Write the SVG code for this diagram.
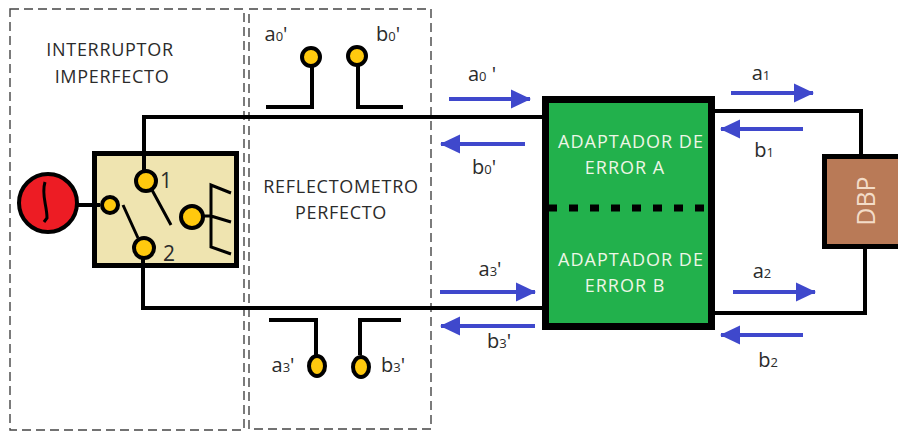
<svg xmlns="http://www.w3.org/2000/svg" width="898" height="432" viewBox="0 0 898 432">
<style>
text{font-family:"Open Sans","Noto Sans","Liberation Sans",sans-serif;font-size:18px;fill:#2b2b2b;text-anchor:middle}
.c{letter-spacing:.7px}
.w{fill:#eef6e6;letter-spacing:1px}
.l{font-size:20px}
.s{font-size:13px}
.dash{fill:none;stroke:#444;stroke-width:1.4;stroke-dasharray:9 5}
.ln{fill:none;stroke:#000;stroke-width:4}
.pin{fill:#ffc90e;stroke:#000;stroke-width:4}
.ar{fill:none;stroke:#3f48cc;stroke-width:4;marker-end:url(#h)}
</style>
<defs><marker id="h" markerUnits="userSpaceOnUse" markerWidth="22" markerHeight="22" refX="19" refY="11" orient="auto"><path d="M0 1.500L20 11L0 20.500Z" fill="#3f48cc"/></marker></defs>
<rect width="898" height="432" fill="#fff"/>
<g id="frames"><rect class="dash" x="10" y="9" width="234" height="421"/><rect class="dash" x="249" y="9" width="182" height="420"/></g>
<g id="connectors">
<path class="ln" d="M144 172V117H546M143 258V308H546"/>
<path class="ln" d="M712 111H861V158M712 313H865V245"/>
<path class="ln" d="M266 107H312V62M358 62V107H403M269 320H316V355M401 320H360V355"/>
<path class="ar" d="M449 99H530"/><path class="ar" d="M525 144H441"/>
<path class="ar" d="M731 93H813"/><path class="ar" d="M803 129H721"/>
<path class="ar" d="M733 292H815"/><path class="ar" d="M803 335H721"/>
<path class="ar" d="M440 292H535"/><path class="ar" d="M535 326H441"/>
</g>
<g id="source"><circle cx="48" cy="203" r="29" fill="#ed1c24" stroke="#000" stroke-width="4"/><path d="M45 182C41 195 47 205 47 218L44 222" fill="none" stroke="#000" stroke-width="3"/></g>
<g id="switch"><rect x="94.500" y="153.500" width="142" height="112" fill="#efe4b0" stroke="#000" stroke-width="5"/>
<path class="ln" d="M144 155V172M143 258V266M76 205H100"/>
<circle class="pin" cx="110" cy="205" r="8"/><circle class="pin" cx="146" cy="181" r="10"/><circle class="pin" cx="144" cy="248" r="10"/><circle class="pin" cx="192" cy="217" r="11"/>
<path d="M152 190L171 225M123 205L138 238M203 216H211M231 193L211 185V247L231 254M211 216L231 222" fill="none" stroke="#000" stroke-width="3"/>
<text x="166" y="188" style="font-size:21px">1</text><text x="169" y="261" style="font-size:21px">2</text></g>
<g id="adapter"><rect x="545.500" y="99.500" width="166" height="227" fill="#22b14c" stroke="#000" stroke-width="7"/>
<path d="M548 208H705" stroke="#000" stroke-width="7" stroke-dasharray="9 12"/>
<text class="w" x="631" y="148">ADAPTADOR DE</text><text class="w" x="625" y="174">ERROR A</text><text class="w" x="631" y="266">ADAPTADOR DE</text><text class="w" x="625" y="292">ERROR B</text></g>
<g id="dbp"><rect x="824.500" y="156.500" width="80" height="90" fill="#b97a57" stroke="#000" stroke-width="5"/><text transform="translate(875 201) rotate(-90)" style="font-size:25px;fill:#f3dcc8">DBP</text></g>
<g id="pins"><circle class="pin" cx="311" cy="57" r="9"/><circle class="pin" cx="357" cy="56" r="9"/><ellipse class="pin" cx="317" cy="366" rx="8" ry="10"/><ellipse class="pin" cx="361" cy="367" rx="8" ry="10"/></g>
<g id="labels">
<text class="c" x="110" y="56">INTERRUPTOR</text><text class="c" x="112" y="83">IMPERFECTO</text>
<text class="c" x="341" y="193">REFLECTOMETRO</text><text class="c" x="341" y="219">PERFECTO</text>
<text class="l" x="276" y="41">a<tspan class="s">0</tspan>'</text><text class="l" x="388" y="41">b<tspan class="s">0</tspan>'</text>
<text class="l" x="482" y="81">a<tspan class="s">0</tspan> '</text><text class="l" x="484" y="174">b<tspan class="s">0</tspan>'</text>
<text class="l" x="283" y="372">a<tspan class="s">3</tspan>'</text><text class="l" x="393" y="372">b<tspan class="s">3</tspan>'</text>
<text class="l" x="490" y="276">a<tspan class="s">3</tspan>'</text><text class="l" x="499" y="348">b<tspan class="s">3</tspan>'</text>
<text class="l" x="761" y="80">a<tspan class="s">1</tspan></text><text class="l" x="764" y="157">b<tspan class="s">1</tspan></text>
<text class="l" x="762" y="278">a<tspan class="s">2</tspan></text><text class="l" x="768" y="367">b<tspan class="s">2</tspan></text>
</g>
</svg>
